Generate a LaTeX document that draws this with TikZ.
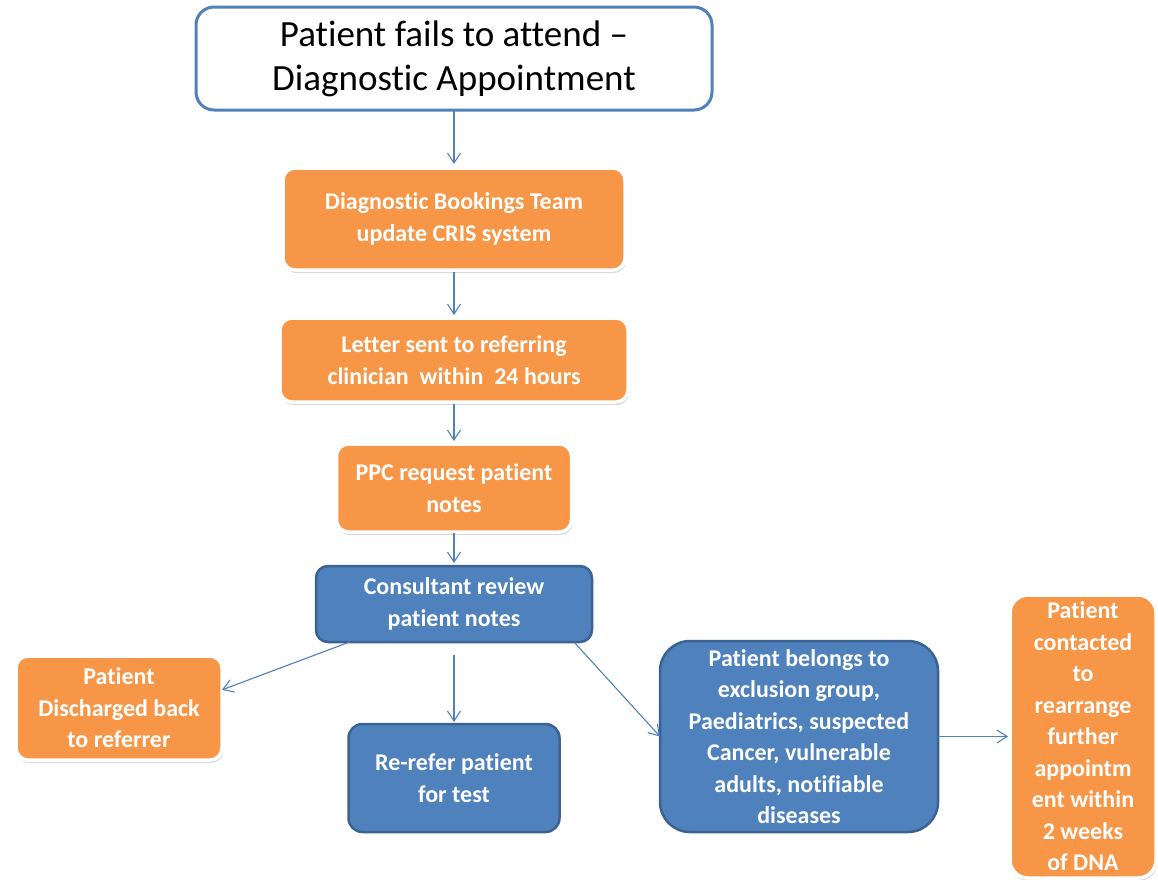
\documentclass[tikz,border=0pt]{standalone}
\usepackage{fontspec}
\setmainfont{Carlito}[Ligatures=NoCommon]
\usetikzlibrary{positioning,arrows.meta,shadows}

\definecolor{dnaorange}{HTML}{F79646}
\definecolor{dnablue}{HTML}{4F81BD}
\definecolor{dnadark}{HTML}{3A6293}

\tikzset{
  orangebox/.style={rectangle, rounded corners=12pt, fill=dnaorange, draw=white, line width=3.5pt,
    outer sep=0pt, inner sep=2pt, text=white, align=center, font=\fontsize{24}{31.5}\selectfont\bfseries,
    drop shadow={shadow xshift=1pt, shadow yshift=-3pt, opacity=0.3}},
  bluebox/.style={rectangle, rounded corners=14pt, fill=dnablue, draw=dnadark, line width=2.5pt,
    outer sep=0pt, inner sep=2pt, text=white, align=center, font=\fontsize{24}{31.5}\selectfont\bfseries},
  titlebox/.style={rectangle, rounded corners=18pt, fill=white, draw=dnablue, line width=3pt,
    outer sep=0pt, align=center, font=\fontsize{37}{44}\selectfont},
  flow/.style={draw=dnablue, line width=1.1pt, -{Straight Barb[length=10pt,width=13pt]}},
}

\begin{document}
\begin{tikzpicture}[x=1pt, y=-1pt, node distance=40pt]
    \useasboundingbox (0,0) rectangle (1158,879);

    % main column
    \node [titlebox, minimum width=516pt, minimum height=103pt] (fail) at (454,58.5)
        {Patient fails to attend --\\Diagnostic Appointment};
    \node [orangebox, minimum width=342pt, minimum height=102pt, below=58pt of fail] (book)
        {Diagnostic Bookings Team\\update CRIS system};
    \node [orangebox, minimum width=348pt, minimum height=84pt, below=48pt of book] (letter)
        {Letter sent to referring\\clinician\ \ within\ \ 24 hours};
    \node [orangebox, minimum width=235pt, minimum height=88pt, below=42pt of letter] (ppc)
        {PPC request patient\\notes};
    \node [bluebox, rounded corners=12pt, minimum width=276pt, minimum height=76pt, below=34pt of ppc] (review)
        {Consultant review\\patient notes};

    % outcomes
    \node [orangebox, minimum width=206pt, minimum height=104pt, below left=14pt and 94pt of review] (discharge)
        {Patient\\Discharged back\\to referrer};
    \node [bluebox, minimum width=211pt, minimum height=108pt, below=82pt of review] (rerefer)
        {Re-refer patient\\for test};
    \node [bluebox, rounded corners=30pt, minimum width=278pt, minimum height=191pt, below right=-1pt and 68pt of review] (exclusion)
        {Patient belongs to\\exclusion group,\\Paediatrics, suspected\\Cancer, vulnerable\\adults, notifiable\\diseases};
    \node [orangebox, rounded corners=18pt, minimum width=146pt, minimum height=283pt, right=72pt of exclusion] (contact)
        {Patient\\contacted\\to\\rearrange\\further\\appointm\\ent within\\2 weeks\\of DNA};

    \draw [flow, shorten >=4pt] (fail) -- (book);
    \draw [flow, shorten <=2pt, shorten >=3pt] (book) -- (letter);
    \draw [flow, shorten <=2pt, shorten >=3pt] (letter) -- (ppc);
    \draw [flow, shorten <=1pt, shorten >=3pt] (ppc) -- (review);
    \draw [flow] (review.-160) -- (discharge.10);
    \draw [flow, shorten <=13pt, shorten >=2pt] (review) -- (rerefer);
    \draw [flow] ([xshift=-18pt]review.south east) -- (exclusion.west);
    \draw [flow, shorten >=2pt] (exclusion) -- (contact);
\end{tikzpicture}
\end{document}
